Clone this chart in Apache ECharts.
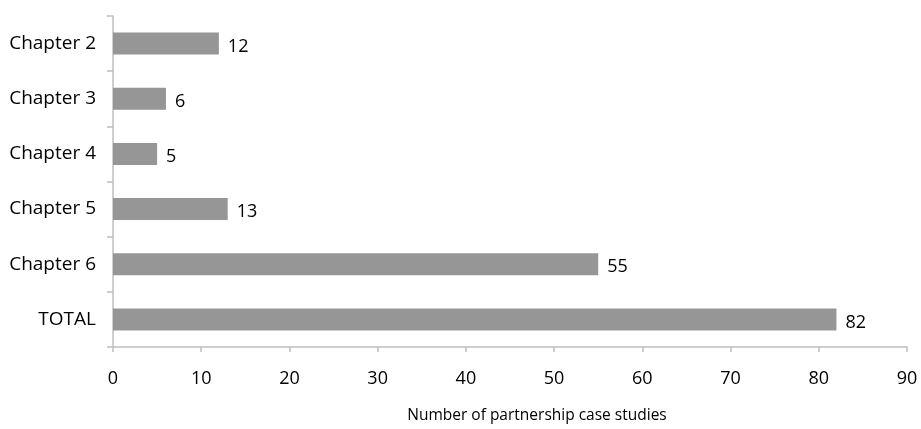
<!DOCTYPE html>
<html><head><meta charset="utf-8">
<script src="https://cdn.jsdelivr.net/npm/echarts@6/dist/echarts.min.js"></script>
<style>html,body{margin:0;padding:0;background:#fff}#c{width:921px;height:429px}</style>
</head><body><div id="c"></div>
<script>
const categories = ['Chapter 2','Chapter 3','Chapter 4','Chapter 5','Chapter 6','TOTAL'];
const values = [12, 6, 5, 13, 55, 82];
const xTicks = [0,10,20,30,40,50,60,70,80,90];
const axisTitle = 'Number of partnership case studies';

const chart = echarts.init(document.getElementById('c'));
const font = 'Open Sans';
chart.setOption({
  animation: false,
  grid: {left: 113, right: 14, top: 16, bottom: 82, outerBoundsMode: 'none', containLabel: false},
  xAxis: {
    type: 'value', min: xTicks[0], max: xTicks[xTicks.length-1], interval: 10,
    name: axisTitle, nameLocation: 'middle', nameGap: 61,
    nameTextStyle: {color: '#000', fontFamily: font, fontSize: 15.5, padding: [0,0,0,54]},
    axisLine: {show: true, lineStyle: {color: '#bfbfbf', width: 1.5}},
    axisTick: {show: true, length: 5, lineStyle: {color: '#bfbfbf', width: 1.5}},
    axisLabel: {color: '#000', fontFamily: font, fontSize: 18, margin: 23},
    splitLine: {show: false}
  },
  yAxis: {
    type: 'category', data: categories, inverse: true,
    axisLine: {show: true, lineStyle: {color: '#bfbfbf', width: 1.5}},
    axisTick: {show: true, length: 6, lineStyle: {color: '#bfbfbf', width: 1.5}},
    axisLabel: {color: '#000', fontFamily: font, fontSize: 19, margin: 17}
  },
  series: [{
    type: 'bar', data: values, barWidth: '40%',
    itemStyle: {color: '#969696'},
    label: {show: true, position: 'right', distance: 9, color: '#000', fontFamily: font, fontSize: 18, offset: [0, 3]}
  }]
});
</script></body></html>
